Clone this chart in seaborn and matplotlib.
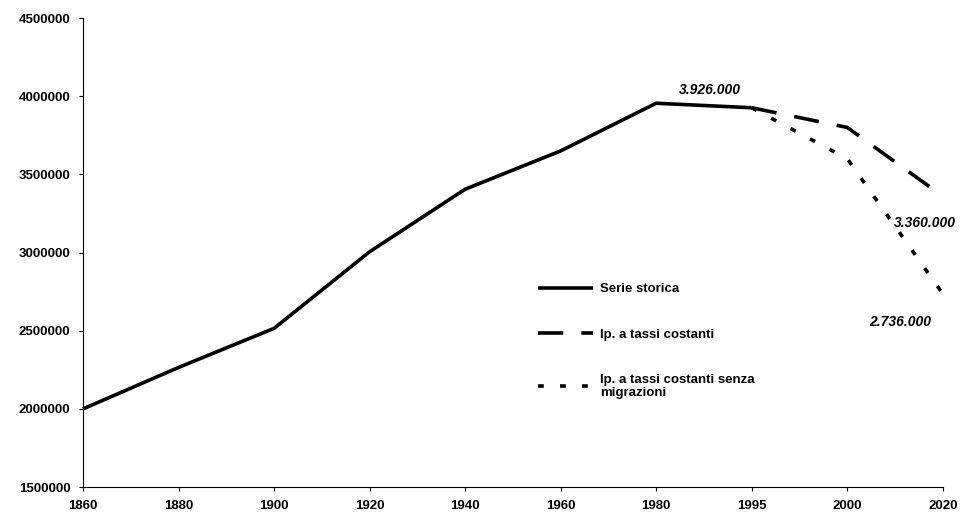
import pandas as pd
import matplotlib
matplotlib.use("Agg")
import matplotlib.pyplot as plt
import seaborn as sns

# values
years_hist = ["1860", "1880", "1900", "1920", "1940", "1960", "1980", "1995"]
pop_hist = [2000000, 2265000, 2515000, 3005000, 3405000, 3650000, 3955000, 3926000]

years_proj = ["1995", "2000", "2020"]
pop_const = [3926000, 3800000, 3360000]
pop_nomig = [3926000, 3600000, 2736000]

labels = ["Serie storica", "Ip. a tassi costanti",
          "Ip. a tassi costanti senza\nmigrazioni"]

sns.set_theme(style="white")
plt.rcParams["font.family"] = ["Liberation Sans", "DejaVu Sans"]
plt.rcParams["text.color"] = "black"
plt.rcParams["xtick.color"] = "black"
plt.rcParams["ytick.color"] = "black"

hist = pd.DataFrame({"anno": years_hist, "pop": pop_hist})
const = pd.DataFrame({"anno": years_proj, "pop": pop_const})
nomig = pd.DataFrame({"anno": years_proj, "pop": pop_nomig})

fig = plt.figure(figsize=(9.65, 5.3), dpi=100)
ax = fig.add_axes([0.086, 0.081, 0.891, 0.885])

sns.lineplot(data=hist, x="anno", y="pop", ax=ax, color="black", lw=2.6,
             label=labels[0])
sns.lineplot(data=const, x="anno", y="pop", ax=ax, color="black", lw=2.6,
             label=labels[1])
sns.lineplot(data=nomig, x="anno", y="pop", ax=ax, color="black", lw=2.6,
             label=labels[2])
ax.lines[1].set_dashes([7, 5])
ax.lines[2].set_dashes([1.6, 4.5])
for ln in ax.lines:
    ln.set_solid_capstyle("butt")
    ln.set_clip_on(False)

ax.set_xlim(0, 9)
ax.set_ylim(1500000, 4500000)
ax.set_yticks(range(1500000, 4500001, 500000))
ax.set_yticklabels([str(v) for v in range(1500000, 4500001, 500000)])
ax.set_xlabel("")
ax.set_ylabel("")
ax.tick_params(axis="both", length=3, width=0.8, color="black", direction="out",
               labelsize=9.5, left=True, bottom=True, pad=6)
for lab in ax.get_xticklabels() + ax.get_yticklabels():
    lab.set_fontweight("bold")
sns.despine(ax=ax)
for sp in ["left", "bottom"]:
    ax.spines[sp].set_color("black")
    ax.spines[sp].set_linewidth(0.8)

ann = dict(fontsize=10, fontstyle="italic", fontweight="bold", ha="center",
           va="center", color="black")
ax.annotate("3.926.000", (7, pop_hist[-1]), xytext=(-30, 13),
            textcoords="offset points", **ann)
ax.annotate("3.360.000", (9, pop_const[-1]), xytext=(-13, -19),
            textcoords="offset points", **ann)
ax.annotate("2.736.000", (9, pop_nomig[-1]), xytext=(-31, -20),
            textcoords="offset points", **ann)

leg = ax.legend(loc="upper left", bbox_to_anchor=(0.515, 0.46), frameon=False,
                handlelength=4.2, handletextpad=0.5, labelspacing=2.5,
                fontsize=9.5)
for t in leg.get_texts():
    t.set_fontweight("bold")
    t.set_color("black")

fig.savefig("out.png", dpi=100)
